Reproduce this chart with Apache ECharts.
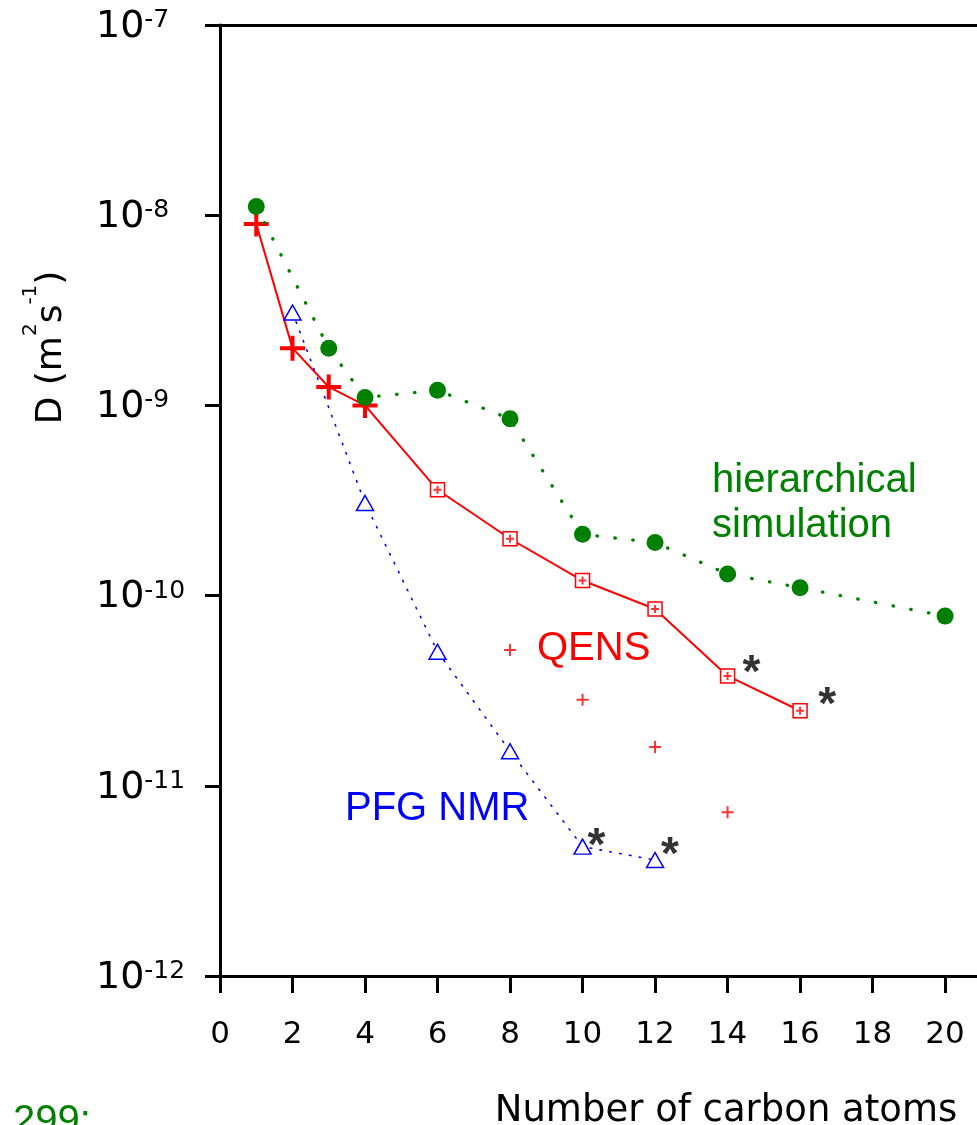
<!DOCTYPE html>
<html><head><meta charset="utf-8">
<script src="https://cdn.jsdelivr.net/npm/echarts@6/dist/echarts.min.js"></script>
<style>html,body{margin:0;padding:0;background:#fff}#c{width:977px;height:1125px}</style>
</head><body><div id="c"></div>
<script>
// ---- data ----
const carbonSim = [1, 3, 4, 6, 8, 10, 12, 14, 16, 20];
const dSim = [1.11e-8, 2.0e-9, 1.1e-9, 1.2e-9, 8.5e-10, 2.1e-10, 1.9e-10, 1.3e-10, 1.1e-10, 7.8e-11];

const carbonQensBig = [1, 2, 3, 4];
const dQensBig = [9.0e-9, 2.0e-9, 1.25e-9, 1.0e-9];
const carbonQensBox = [6, 8, 10, 12, 14, 16];
const dQensBox = [3.6e-10, 1.99e-10, 1.2e-10, 8.5e-11, 3.78e-11, 2.48e-11];
const carbonQensSmall = [8, 10, 12, 14];
const dQensSmall = [5.17e-11, 2.83e-11, 1.6e-11, 7.26e-12];

const carbonNmr = [2, 4, 6, 8, 10, 12];
const dNmr = [3.08e-9, 3.07e-10, 5.07e-11, 1.52e-11, 4.79e-12, 4.07e-12];

const starCarbon = [14, 16, 10, 12];
const starD = [3.78e-11, 2.48e-11, 4.79e-12, 4.07e-12];

const xTicks = [0, 2, 4, 6, 8, 10, 12, 14, 16, 18, 20];

const GREEN = '#008000', RED = '#ff0000', BLUE = '#0000ff';
const AX = 'DejaVu Sans', TX = 'Liberation Sans';

const pair = (xs, ys) => xs.map((x, i) => [x, ys[i]]);
const CROSS_BIG = 'path://M0,10.5H25V14.5H0Z M10.5,0H14.5V25H10.5Z';
const CROSS_SMALL = 'path://M0,5H12V7H0Z M5,0H7V12H5Z';
const CROSS_IN = 'path://M0,3H8V5H0Z M3,0H5V8H3Z';

const qensLine = [].concat(
  pair(carbonQensBig, dQensBig).map(p => ({ value: p, symbol: CROSS_BIG, symbolSize: 25, itemStyle: { color: RED, borderWidth: 0 } })),
  pair(carbonQensBox, dQensBox).map(p => ({ value: p, symbol: 'rect', symbolSize: 14, itemStyle: { color: '#fff', borderColor: RED, borderWidth: 1.5 } }))
);

const starOffsets = [[24, -2], [27, -4], [14, 1], [15, -4]];

const chart = echarts.init(document.getElementById('c'));
chart.setOption({
  animation: false,
  backgroundColor: '#fff',
  grid: { left: 220, top: 25, bottom: 149, right: 0, containLabel: false, outerBoundsMode: 'none' },
  xAxis: [{
    type: 'value', min: 0, max: 20.88, interval: 2,
    name: 'Number of carbon atoms', nameLocation: 'middle', nameGap: 117,
    nameTextStyle: { fontFamily: AX, fontSize: 37, color: '#000', padding: [0, 0, 0, 255] },
    axisLine: { show: true, lineStyle: { color: '#000', width: 3 } },
    axisTick: { show: true, length: 17, customValues: xTicks, lineStyle: { color: '#000', width: 3 } },
    axisLabel: { fontFamily: AX, fontSize: 31, color: '#000', margin: 43, customValues: xTicks },
    splitLine: { show: false }
  }, {
    type: 'value', min: 0, max: 20.88, position: 'top',
    axisLine: { show: true, lineStyle: { color: '#000', width: 3 } },
    axisTick: { show: false }, axisLabel: { show: false }, splitLine: { show: false }
  }],
  yAxis: {
    type: 'log', logBase: 10, min: 1e-12, max: 1e-7,
    name: '{b|D (m}{s|2}{b|s}{s|-1}{b|)}', nameLocation: 'middle', nameGap: 150, nameRotate: 90,
    nameTextStyle: { color: '#000', padding: [0, 0, 0, 306],
      rich: {
        b: { fontFamily: AX, fontSize: 36, lineHeight: 49, verticalAlign: 'bottom', color: '#000' },
        s: { fontFamily: AX, fontSize: 20, lineHeight: 20, verticalAlign: 'top', color: '#000' }
      } },
    axisLine: { show: true, lineStyle: { color: '#000', width: 3 } },
    axisTick: { show: true, length: 15, lineStyle: { color: '#000', width: 3 } },
    minorTick: { show: false },
    axisLabel: { align: 'left', margin: 124, padding: [4, 0, 0, 0],
      formatter: v => '{b|10}{s|' + Math.round(Math.log10(v)) + '}',
      rich: {
        b: { fontFamily: AX, fontSize: 38, lineHeight: 38, color: '#000' },
        s: { fontFamily: AX, fontSize: 25, lineHeight: 25, verticalAlign: 'top', color: '#000' }
      } },
    splitLine: { show: false }
  },
  series: [
    {
      name: 'QENS', type: 'line', data: qensLine, z: 3,
      lineStyle: { color: RED, width: 2 }, itemStyle: { color: RED }
    },
    {
      name: 'QENS inner', type: 'scatter', data: pair(carbonQensBox, dQensBox), z: 4,
      symbol: CROSS_IN, symbolSize: 8, itemStyle: { color: RED }
    },
    {
      name: 'QENS single', type: 'scatter', data: pair(carbonQensSmall, dQensSmall), z: 3,
      symbol: CROSS_SMALL, symbolSize: 12, itemStyle: { color: RED }
    },
    {
      name: 'PFG NMR', type: 'line', data: pair(carbonNmr, dNmr), z: 3,
      symbol: 'triangle', symbolSize: [17, 15],
      itemStyle: { color: '#fff', borderColor: BLUE, borderWidth: 1.5 },
      lineStyle: { color: BLUE, width: 1.6, type: [1.5, 8.5], cap: 'round' }
    },
    {
      name: 'hierarchical simulation', type: 'line', data: pair(carbonSim, dSim), z: 5,
      symbol: 'circle', symbolSize: 17, itemStyle: { color: GREEN },
      lineStyle: { color: GREEN, width: 3.3, type: [0.5, 17.5], cap: 'round' }
    },
    {
      name: 'stars', type: 'scatter', z: 6, symbolSize: 0, silent: true,
      data: pair(starCarbon, starD).map((p, i) => ({ value: p, label: { offset: starOffsets[i] } })),
      label: { show: true, formatter: '*', fontFamily: TX, fontWeight: 'bold', fontSize: 46, color: '#000',
        position: 'inside' }
    }
  ],
  graphic: [
    { type: 'text', x: 712, y: 503, style: { text: 'hierarchical\nsimulation', fontFamily: TX, fontSize: 40, lineHeight: 45, fill: GREEN, align: 'left', verticalAlign: 'middle' } },
    { type: 'text', x: 537, y: 649, style: { text: 'QENS', fontFamily: TX, fontSize: 40, fill: RED, align: 'left', verticalAlign: 'middle' } },
    { type: 'text', x: 345, y: 809, style: { text: 'PFG NMR', fontFamily: TX, fontSize: 40, fill: BLUE, align: 'left', verticalAlign: 'middle' } },
    { type: 'text', x: 13, y: 1122, style: { text: '299:', fontFamily: TX, fontSize: 40, fill: GREEN, align: 'left', verticalAlign: 'middle' } }
  ]
});
</script></body></html>
